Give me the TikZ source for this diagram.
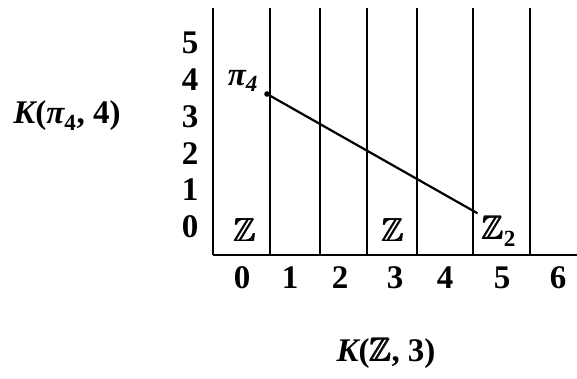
\documentclass[tikz,border=0pt]{standalone}
\usepackage{amsmath}
\usepackage{amssymb}
\usepackage{fontspec}
\setmainfont{Liberation Serif}
\newcommand{\bbZ}{\ensuremath{\pmb{\mathbb{Z}}}}
\begin{document}
\begin{tikzpicture}[x=1pt,y=-1pt,
  lbl/.style={font=\fontsize{33}{36}\selectfont\bfseries, inner sep=0pt},
  gridline/.style={line width=2.8pt},
  mapline/.style={line width=2.2pt, line cap=round}]
\useasboundingbox (0,0) rectangle (577,379);
% vertical lines
\foreach \x [count=\i] in {213,270,320,367,417,473,530} {
  \coordinate (t\i) at (\x,8);
  \coordinate (b\i) at (\x,255);
  \draw[gridline] (t\i) -- (b\i);
}
\coordinate (axR) at (577,255);
\draw[gridline] (b1) -- (axR);
% left labels
\foreach \n/\y in {5/43,4/80,3/117,2/154,1/190,0/227} {
  \node[lbl] (l\n) at (190,\y) {\n};
}
% bottom labels
\foreach \n/\x in {0/242,1/290,2/340,3/395,4/445,5/502,6/558} {
  \node[lbl] (c\n) at (\x,278) {\n};
}
% entries
\node[lbl] (z0) at (245,230) {\bbZ};
\node[lbl] (z3) at (393,230) {\bbZ};
\node[lbl] (z5) at (499,231) {\bbZ\textsubscript{2}};
\node[lbl] (pi) at (243,81) {\itshape π\textsubscript{4}};
% map line
\coordinate (p) at (267,94);
\coordinate (q) at (477,213);
\draw[mapline] (p) -- (q);
\fill (p) circle (2.8pt);
% axis titles
\node[lbl] (kp) at (67,116) {{\itshape K}({\itshape π}\textsubscript{4}, 4)};
\node[lbl] (kz) at (386,353) {{\itshape K}(\bbZ, 3)};
\end{tikzpicture}
\end{document}
